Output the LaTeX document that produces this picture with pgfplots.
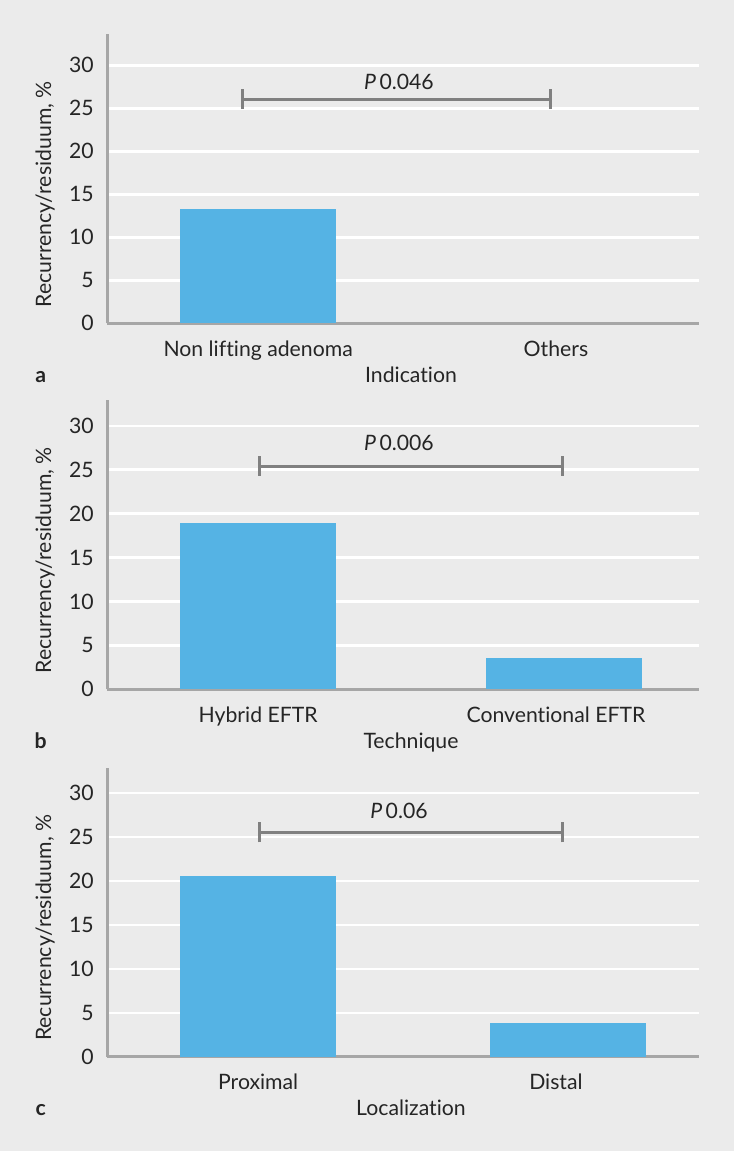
\documentclass[border=0pt]{standalone}
\usepackage{pgfplots}
\pgfplotsset{compat=1.18}
\usepackage{fontspec}
\setmainfont{Lato}[Ligatures={NoCommon,NoDiscretionary,NoContextual}]
\definecolor{bg}{HTML}{EBEBEB}
\definecolor{barblue}{HTML}{55B3E4}
\definecolor{axisgray}{HTML}{A6A6A6}
\definecolor{brgray}{HTML}{808080}
\definecolor{txt}{HTML}{252525}
\pgfplotsset{
  panel/.style={
    scale only axis, width=592bp, height=289bp,
    xmin=-0.494, xmax=1.4405, ymin=0,
    axis x line*=bottom, axis y line*=left,
    axis line style={line width=3bp, draw=axisgray, -},
    ytick={0,5,...,30}, ymajorgrids,
    grid style={white, line width=2.5bp},
    major tick length=0pt, tick style={draw=none},
    xtick={0,0.973},
    /pgf/number format/assume math mode=true,
    font=\fontsize{21.3}{25}\selectfont,
    every tick label/.append style={text=txt},
    xticklabel style={anchor=base, yshift=-32.7bp, inner sep=0pt},
    yticklabel style={anchor=east, inner sep=0pt, xshift=-13bp},
    ylabel={Recurrency/residuum, \%},
    every axis y label/.style={at={(axis description cs:-0.1047,0.446)}, rotate=90, anchor=center, text=txt},
    every axis x label/.style={at={(axis description cs:0.5135,0)}, anchor=base, yshift=-59bp, text=txt},
    clip=false,
  },
  bracket/.style={draw=brgray, line width=3bp, mark=none},
}
\begin{document}
\begin{tikzpicture}[x=1bp,y=1bp]
\fill[bg] (0,0) rectangle (734,-1151);

% ---------- panel a ----------
\begin{axis}[panel, at={(107bp,-323.3bp)}, anchor=south west, ymax=33.6,
  xticklabels={Non lifting adenoma, Others}, xlabel={Indication}]
\addplot[ybar, fill=barblue, draw=none, bar width=0.51] coordinates {(0,13.3)};
\addplot[bracket] coordinates {(-0.052,26.0) (0.954,26.0)};
\addplot[bracket] coordinates {(-0.052,24.9) (-0.052,27.2)};
\addplot[bracket] coordinates {(0.954,24.9) (0.954,27.2)};
\node[text=txt, font=\fontsize{21.3}{25}\selectfont] at (axis cs:0.46,28.1) {\textit{P}\,0.046};
\node[text=txt, font=\fontsize{21.3}{25}\selectfont\bfseries, anchor=base] at (axis description cs:-0.112,0) [yshift=-59bp] {a};
\end{axis}

% ---------- panel b ----------
\begin{axis}[panel, at={(107bp,-689.3bp)}, anchor=south west, ymax=32.9,
  xticklabels={Hybrid EFTR, Conventional EFTR}, xlabel={Technique}]
\addplot[ybar, fill=barblue, draw=none, bar width=0.51] coordinates {(0,18.9)};
\addplot[ybar, fill=barblue, draw=none, bar width=0.51] coordinates {(1.0,3.6)};
\addplot[bracket] coordinates {(0.003,25.4) (0.995,25.4)};
\addplot[bracket] coordinates {(0.003,24.3) (0.003,26.6)};
\addplot[bracket] coordinates {(0.995,24.3) (0.995,26.6)};
\node[text=txt, font=\fontsize{21.3}{25}\selectfont] at (axis cs:0.46,28.0) {\textit{P}\,0.006};
\node[text=txt, font=\fontsize{21.3}{25}\selectfont\bfseries, anchor=base] at (axis description cs:-0.112,0) [yshift=-59bp] {b};
\end{axis}

% ---------- panel c ----------
\begin{axis}[panel, at={(107bp,-1056.7bp)}, anchor=south west, ymax=32.9,
  xticklabels={Proximal, Distal}, xlabel={Localization}]
\addplot[ybar, fill=barblue, draw=none, bar width=0.51] coordinates {(0,20.6)};
\addplot[ybar, fill=barblue, draw=none, bar width=0.51] coordinates {(1.011,3.85)};
\addplot[bracket] coordinates {(0.003,25.5) (0.995,25.5)};
\addplot[bracket] coordinates {(0.003,24.4) (0.003,26.7)};
\addplot[bracket] coordinates {(0.995,24.4) (0.995,26.7)};
\node[text=txt, font=\fontsize{21.3}{25}\selectfont] at (axis cs:0.46,28.0) {\textit{P}\,0.06};
\node[text=txt, font=\fontsize{21.3}{25}\selectfont\bfseries, anchor=base] at (axis description cs:-0.112,0) [yshift=-59bp] {c};
\end{axis}

\pgfresetboundingbox
\path[use as bounding box] (0,0) rectangle (734,-1151);
\end{tikzpicture}
\end{document}
